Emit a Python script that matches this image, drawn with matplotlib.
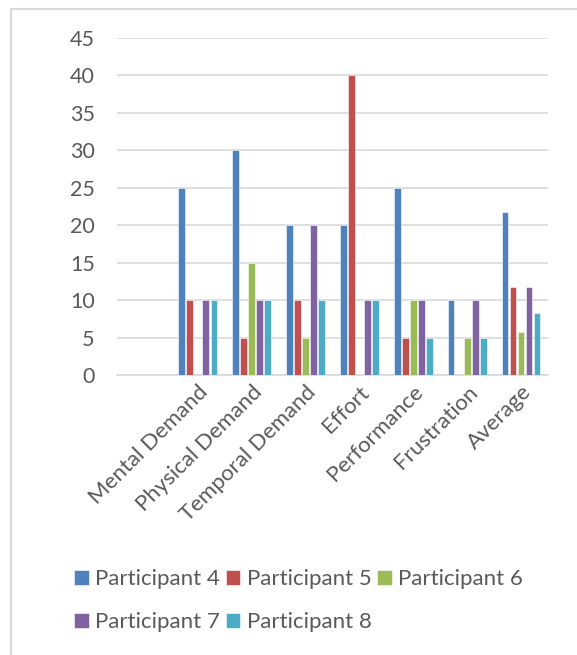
import numpy as np
import matplotlib.pyplot as plt
from matplotlib.patches import Rectangle

plt.rcParams['font.family'] = ['Lato', 'DejaVu Sans']

categories = ['', 'Mental Demand', 'Physical Demand', 'Temporal Demand',
              'Effort', 'Performance', 'Frustration', 'Average']
participants = ['Participant 4', 'Participant 5', 'Participant 6',
                'Participant 7', 'Participant 8']
p4 = [0, 25, 30, 20, 20, 25, 10, 21.7]
p5 = [0, 10, 5, 10, 40, 5, 0, 11.7]
p6 = [0, 0, 15, 5, 0, 10, 5, 5.8]
p7 = [0, 10, 10, 20, 10, 10, 10, 11.7]
p8 = [0, 10, 10, 10, 10, 5, 5, 8.3]
series = [p4, p5, p6, p7, p8]
colors = ['#4F81BD', '#C0504D', '#9BBB59', '#8064A2', '#4BACC6']
txt_color = '#595959'

fig = plt.figure(figsize=(5.77, 6.55), dpi=100)

# chart frame
fig.patches.append(Rectangle((11/577, -0.1), 1.2, 1 - 9/655 + 0.1,
                             transform=fig.transFigure, fill=False,
                             edgecolor='#d9d9d9', linewidth=1.5, zorder=0))

ax = fig.add_axes([117/577, 1 - 375/655, 431/577, (375 - 38)/655])

x = np.arange(len(categories))
step = 0.149
width = 0.125
for i, (vals, name, c) in enumerate(zip(series, participants, colors)):
    ax.bar(x + (i - 2) * step, vals, width, color=c, label=name,
           edgecolor='white', linewidth=0.4, zorder=3)

ax.set_xlim(-0.5, len(categories) - 0.5)
ax.set_ylim(0, 45)
ax.set_yticks(range(0, 46, 5))
ax.yaxis.grid(True, color='#d9d9d9', linewidth=1.2, zorder=0)
ax.set_axisbelow(True)
for s in ['top', 'right', 'left']:
    ax.spines[s].set_visible(False)
ax.spines['bottom'].set_color('#d9d9d9')
ax.spines['bottom'].set_linewidth(1.2)
ax.tick_params(axis='y', length=0, pad=16, labelsize=15.5, labelcolor=txt_color)
ax.tick_params(axis='x', length=0, pad=5, labelsize=16, labelcolor=txt_color)
ax.set_xticks(x)
ax.set_xticklabels(categories, rotation=45, ha='right', rotation_mode='anchor')

# legend fills row by row: reorder for matplotlib's column-first layout
handles, labels = ax.get_legend_handles_labels()
order = [0, 3, 1, 4, 2]
fig.legend([handles[k] for k in order], [labels[k] for k in order],
           loc='upper left', bbox_to_anchor=(0.113, 0.145),
           ncol=3, frameon=False, fontsize=16, labelcolor=txt_color,
           handlelength=0.65, handleheight=0.65, handletextpad=0.3,
           columnspacing=0.25, labelspacing=1.05, borderaxespad=0)

fig.savefig('out.png', dpi=100)
